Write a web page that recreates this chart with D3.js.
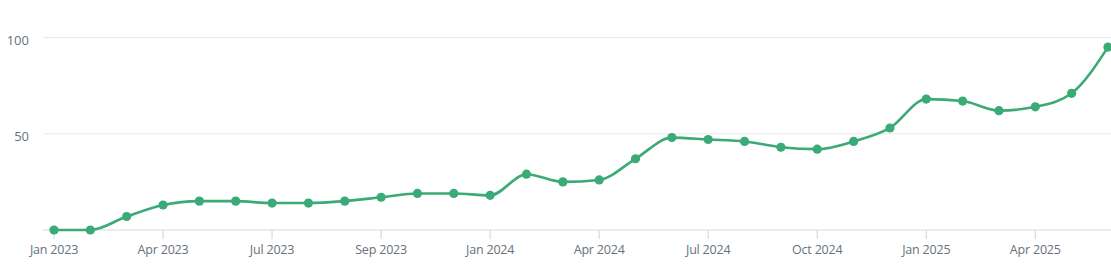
<!DOCTYPE html>
<html>
<head>
<meta charset="utf-8">
<script src="https://cdn.jsdelivr.net/npm/d3@7"></script>
<style>
  html, body { margin: 0; padding: 0; background: #fff; }
  #chart { width: 1111px; height: 277px; }
  text { font-family: "Open Sans", sans-serif; }
</style>
</head>
<body>
<div id="chart"></div>
<script>
// monthly values, Jan 2023 .. Jun 2025
const months = [
    "2023-01", "2023-02", "2023-03", "2023-04", "2023-05", "2023-06",
    "2023-07", "2023-08", "2023-09", "2023-10", "2023-11", "2023-12",
    "2024-01", "2024-02", "2024-03", "2024-04", "2024-05", "2024-06",
    "2024-07", "2024-08", "2024-09", "2024-10", "2024-11", "2024-12",
    "2025-01", "2025-02", "2025-03", "2025-04", "2025-05", "2025-06"
];
const values = [
    0, 0, 7, 13, 15, 15,
    14, 14, 15, 17, 19, 19,
    18, 29, 25, 26, 37, 48,
    47, 46, 43, 42, 46, 53,
    68, 67, 62, 64, 71, 95
];
// x labels as printed in the picture (note "Sep 2023" sits on the Oct slot)
const tickMonths = ["2023-01", "2023-04", "2023-07", "2023-10", "2024-01", "2024-04",
    "2024-07", "2024-10", "2025-01", "2025-04"];
const tickLabels = ["Jan 2023", "Apr 2023", "Jul 2023", "Sep 2023", "Jan 2024", "Apr 2024",
    "Jul 2024", "Oct 2024", "Jan 2025", "Apr 2025"];
const yTicks = [0, 50, 100];

const width = 1111, height = 277;
const green = "#3aaa76";
const textColor = "#66717c";

const svg = d3.select("#chart").append("svg")
    .attr("width", width)
    .attr("height", height);

const x = d3.scalePoint()
    .domain(months)
    .range([54, 1108]);

const y = d3.scaleLinear()
    .domain([0, 100])
    .range([230, 37.5]);

// horizontal grid
svg.append("g")
    .selectAll("line")
    .data(yTicks)
    .join("line")
    .attr("x1", 43)
    .attr("x2", width)
    .attr("y1", d => y(d))
    .attr("y2", d => y(d))
    .attr("stroke", d => d === 0 ? "#d6dae3" : "#e6e9ef")
    .attr("stroke-width", 1.2);

// y labels (no zero label)
svg.append("g")
    .selectAll("text")
    .data(yTicks.filter(d => d > 0))
    .join("text")
    .attr("x", 29)
    .attr("y", d => y(d) + 3)
    .attr("dy", "0.35em")
    .attr("text-anchor", "end")
    .attr("fill", textColor)
    .style("font-size", "13px")
    .text(d => d);

// x ticks + labels
const xAxis = svg.append("g");
xAxis.selectAll("line")
    .data(tickMonths)
    .join("line")
    .attr("x1", d => x(d))
    .attr("x2", d => x(d))
    .attr("y1", y(0))
    .attr("y2", y(0) + 9)
    .attr("stroke", "#d6dae3")
    .attr("stroke-width", 1.2);

xAxis.selectAll("text")
    .data(tickMonths)
    .join("text")
    .attr("x", d => x(d))
    .attr("y", 254)
    .attr("text-anchor", "middle")
    .attr("fill", textColor)
    .style("font-size", "12.5px")
    .style("letter-spacing", "-0.2px")
    .text((d, i) => tickLabels[i]);

const data = months.map((m, i) => ({ m: m, v: values[i] }));

const line = d3.line()
    .x(d => x(d.m))
    .y(d => y(d.v))
    .curve(d3.curveMonotoneX);

svg.append("path")
    .datum(data)
    .attr("fill", "none")
    .attr("stroke", green)
    .attr("stroke-width", 2.6)
    .attr("d", line);

svg.append("g")
    .selectAll("circle")
    .data(data)
    .join("circle")
    .attr("cx", d => x(d.m))
    .attr("cy", d => y(d.v))
    .attr("r", 4.6)
    .attr("fill", green);
</script>
</body>
</html>
